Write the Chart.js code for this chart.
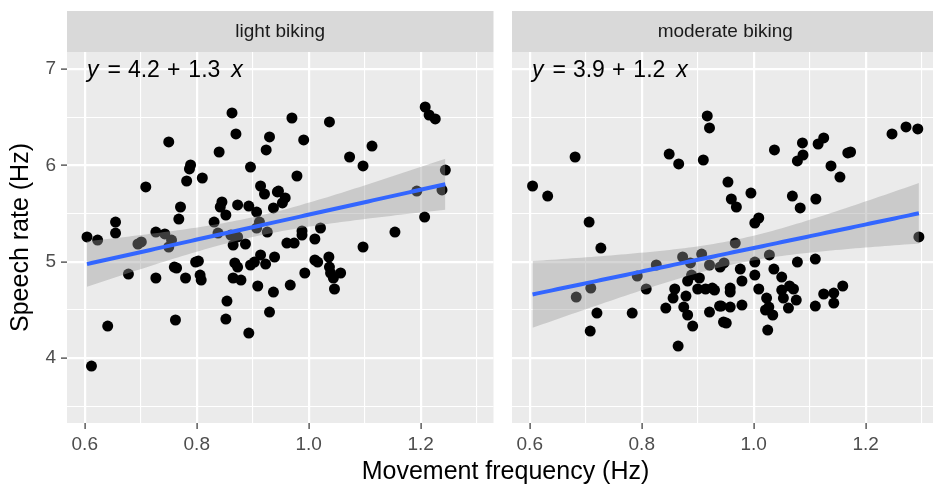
<!DOCTYPE html>
<html>
<head>
<meta charset="utf-8">
<script src="https://cdn.jsdelivr.net/npm/chart.js@4.4.1/dist/chart.umd.min.js"></script>
<style>
  html, body { margin: 0; padding: 0; background: #fff; }
  #wrap { position: relative; width: 933px; height: 487px; overflow: hidden; }
  canvas { position: absolute; top: 0; }
  #xtitle { position: absolute; left: 67px; width: 877px; top: 456px; text-align: center;
            font: 25px "Liberation Sans", Arial, sans-serif; color: #000; line-height: 28px; }
</style>
</head>
<body>
<div id="wrap">
  <canvas id="c0" width="499" height="487" style="left:0"></canvas>
  <canvas id="c1" width="445" height="487" style="left:499px"></canvas>
  <div id="xtitle">Movement frequency (Hz)</div>
</div>
<script>
// facet labels and fitted equation text
var panelLabels = ['light biking', 'moderate biking'];
var eqIntercepts = ['4.2', '3.9'];
var eqSlopes = ['1.3', '1.2'];

// axis ticks
var xTicks = [0.6, 0.8, 1.0, 1.2];
var xTickLabels = ['0.6', '0.8', '1.0', '1.2'];
var xMinor = [0.7, 0.9, 1.1, 1.3];
var yTicks = [4, 5, 6, 7];
var yTickLabels = ['4', '5', '6', '7'];
var yMinor = [3.5, 4.5, 5.5, 6.5];

// light biking
var lightX = [0.604,0.623,0.612,0.641,0.655,0.655,0.678,0.701,0.695,0.709,0.727,0.743,0.755,0.750,0.750,
  0.727,0.760,0.764,0.780,0.762,0.768,0.771,0.782,0.787,0.789,0.810,0.798,0.803,0.806,0.808,
  0.831,0.840,0.842,0.845,0.852,0.838,0.863,0.870,0.873,0.861,0.873,0.865,0.887,0.868,0.873,
  0.865,0.879,0.854,0.852,0.893,0.896,0.907,0.907,0.926,0.914,0.921,0.924,0.930,0.937,0.944,
  0.903,0.896,0.914,0.923,0.939,0.909,0.937,0.893,0.930,0.946,0.958,0.953,0.912,0.970,0.991,
  0.979,1.037,1.073,1.097,1.113,0.988,0.988,1.021,1.011,0.961,0.974,0.967,0.993,1.011,1.016,
  1.036,1.037,1.039,1.044,1.057,1.046,1.097,1.154,1.207,1.208,1.215,1.226,1.244,1.193,1.238];
var lightY = [5.256,5.224,3.916,4.331,5.411,5.297,4.871,5.204,5.183,5.775,5.307,5.287,5.224,5.152,6.242,
  4.830,4.944,4.934,4.830,4.394,5.442,5.567,5.837,5.962,6.003,5.868,4.996,5.006,4.861,4.809,
  5.411,6.138,5.567,5.619,5.484,5.297,6.543,6.325,5.588,5.276,5.256,5.172,5.183,4.986,4.944,
  4.830,4.809,4.591,4.404,5.577,5.982,5.515,5.349,5.307,5.785,5.702,6.159,6.294,5.557,5.723,
  4.996,4.965,5.069,4.975,5.048,4.747,4.684,4.259,4.477,5.733,5.661,5.609,5.411,6.491,6.263,
  5.889,6.450,6.086,5.993,6.200,5.318,5.276,5.349,5.235,5.193,5.193,4.757,4.882,5.017,4.996,
  5.048,4.944,4.882,4.830,4.882,4.716,5.152,5.307,5.463,6.605,6.522,6.481,5.951,5.733,5.744];

// moderate biking
var moderateX = [0.605,0.632,0.681,0.706,0.849,0.866,0.917,0.921,0.910,0.954,0.960,0.969,0.995,1.002,1.009,
  1.037,1.069,1.083,1.087,1.088,1.078,1.111,1.115,1.125,1.138,1.154,1.168,1.173,1.247,1.272,
  1.293,1.295,0.727,0.683,0.709,0.720,0.708,0.783,0.792,0.808,0.826,0.873,0.907,0.887,0.921,
  0.865,0.843,0.856,0.859,0.879,0.882,0.889,0.903,0.900,0.914,0.926,0.875,0.882,0.891,0.921,
  0.939,0.946,0.940,0.967,0.947,0.976,1.002,1.002,1.028,1.036,1.050,1.078,1.110,0.979,0.958,
  0.958,1.009,0.930,0.942,0.958,0.979,0.951,1.023,1.027,1.021,1.034,1.050,1.064,1.071,1.053,
  1.076,1.062,1.025,1.110,1.125,1.143,1.143,1.159];
var moderateY = [5.785,5.681,6.086,5.411,6.117,6.014,6.512,6.388,6.055,5.826,5.650,5.567,5.712,5.401,5.453,
  6.159,5.681,5.557,6.232,6.107,6.045,5.650,6.221,6.284,5.993,5.878,6.128,6.138,6.325,6.398,
  6.377,5.256,5.141,4.632,4.726,4.466,4.279,4.466,4.851,4.716,4.965,5.048,5.079,4.986,4.965,
  4.124,4.518,4.622,4.716,4.643,4.799,4.861,4.830,4.716,4.716,4.726,4.528,4.446,4.331,4.477,
  4.539,4.373,4.944,5.193,4.986,4.923,4.861,4.996,5.069,4.923,4.840,4.996,5.027,4.799,4.726,
  4.684,4.716,4.705,4.539,4.528,4.549,4.362,4.622,4.528,4.498,4.446,4.705,4.747,4.716,4.622,
  4.601,4.518,4.290,4.539,4.664,4.674,4.570,4.747];

var FONT = '"Liberation Sans", Arial, sans-serif';

function isIn(list, v) {
  return list.some(function (t) { return Math.abs(t - v) < 1e-6; });
}

// linear fit with 95% band, like geom_smooth(method = "lm")
function lmFit(xs, ys) {
  var n = xs.length, mx = 0, my = 0, sxx = 0, sxy = 0, sse = 0;
  for (var i = 0; i < n; i++) { mx += xs[i]; my += ys[i]; }
  mx /= n; my /= n;
  for (i = 0; i < n; i++) { sxx += (xs[i] - mx) * (xs[i] - mx); sxy += (xs[i] - mx) * (ys[i] - my); }
  var b = sxy / sxx, a = my - b * mx;
  for (i = 0; i < n; i++) { var r = ys[i] - a - b * xs[i]; sse += r * r; }
  var s = Math.sqrt(sse / (n - 2)), t = 1.983;
  var lo = Math.min.apply(null, xs), hi = Math.max.apply(null, xs);
  var line = [], upper = [], lower = [];
  for (i = 0; i < 80; i++) {
    var x = lo + (hi - lo) * i / 79;
    var yh = a + b * x;
    var se = s * Math.sqrt(1 / n + (x - mx) * (x - mx) / sxx);
    line.push({x: x, y: yh});
    upper.push({x: x, y: yh + t * se});
    lower.push({x: x, y: yh - t * se});
  }
  return {line: line, upper: upper, lower: lower};
}

var panelDeco = {
  id: 'panelDeco',
  beforeDraw: function (chart, args, opts) {
    var ctx = chart.ctx, a = chart.chartArea;
    ctx.save();
    ctx.fillStyle = '#EBEBEB';
    ctx.fillRect(a.left, a.top, a.right - a.left, a.bottom - a.top);
    ctx.fillStyle = '#D9D9D9';
    ctx.fillRect(a.left, 11, a.right - a.left, a.top - 11);
    ctx.fillStyle = '#1A1A1A';
    ctx.font = '19px ' + FONT;
    ctx.textAlign = 'center';
    ctx.textBaseline = 'middle';
    ctx.fillText(opts.label, (a.left + a.right) / 2, 32);
    ctx.restore();
  },
  afterDraw: function (chart, args, opts) {
    var ctx = chart.ctx, a = chart.chartArea;
    var parts = [['y', true], ['=', false], [opts.a, false], ['+', false], [opts.b, false], ['x', true]];
    var gaps = [9, 7, 7, 8, 11, 0];
    var x = a.left + 20, base = 77;
    ctx.save();
    ctx.fillStyle = '#000';
    ctx.textBaseline = 'alphabetic';
    ctx.textAlign = 'left';
    parts.forEach(function (p, i) {
      ctx.font = (p[1] ? 'italic ' : '') + '23px ' + FONT;
      ctx.fillText(p[0], x, base);
      x += ctx.measureText(p[0]).width + gaps[i];
    });
    ctx.restore();
  }
};

function makePanel(id, xs, ys, k, showY) {
  var fit = lmFit(xs, ys);
  var pts = xs.map(function (x, i) { return {x: x, y: ys[i]}; });
  new Chart(document.getElementById(id), {
    type: 'scatter',
    data: {
      datasets: [
        {data: fit.line, showLine: true, borderColor: '#3366FF', borderWidth: 4, pointRadius: 0, fill: false},
        {data: fit.upper, showLine: true, borderWidth: 0, borderColor: 'rgba(0,0,0,0)', pointRadius: 0,
         fill: '+1', backgroundColor: 'rgba(153,153,153,0.4)'},
        {data: fit.lower, showLine: true, borderWidth: 0, borderColor: 'rgba(0,0,0,0)', pointRadius: 0, fill: false},
        {data: pts, pointRadius: 5.5, pointBackgroundColor: '#000', pointBorderWidth: 0, borderWidth: 0}
      ]
    },
    options: {
      responsive: false,
      animation: false,
      events: [],
      layout: {padding: {top: 52, left: 0, right: 0, bottom: 0}},
      plugins: {
        legend: {display: false},
        tooltip: {enabled: false},
        panelDeco: {label: panelLabels[k], a: eqIntercepts[k], b: eqSlopes[k]}
      },
      scales: {
        x: {
          type: 'linear', min: 0.5683, max: 1.330,
          afterBuildTicks: function (s) {
            s.ticks = xTicks.concat(xMinor).sort().map(function (v) { return {value: v}; });
          },
          afterFit: function (s) { s.height = 64; },
          border: {display: false},
          grid: {
            color: '#FFFFFF',
            lineWidth: function (c) { return c.tick && isIn(xTicks, c.tick.value) ? 2.2 : 1.1; },
            tickColor: function (c) { return c.tick && isIn(xTicks, c.tick.value) ? '#333333' : 'rgba(0,0,0,0)'; },
            tickLength: 6, tickWidth: 1.2
          },
          ticks: {
            autoSkip: false, maxRotation: 0, padding: 4, color: '#4D4D4D',
            font: {size: 19, family: FONT},
            callback: function (v) {
              var i = xTicks.findIndex(function (t) { return Math.abs(t - v) < 1e-6; });
              return i < 0 ? '' : xTickLabels[i];
            }
          }
        },
        y: {
          type: 'linear', min: 3.325, max: 7.176,
          afterBuildTicks: function (s) {
            s.ticks = yTicks.concat(yMinor).sort().map(function (v) { return {value: v}; });
          },
          afterFit: function (s) { s.width = showY ? 67 : 13; },
          border: {display: false},
          title: {display: showY, text: 'Speech rate (Hz)', color: '#000',
                  font: {size: 25, family: FONT}, padding: {top: 6, bottom: 0}},
          grid: {
            color: '#FFFFFF',
            lineWidth: function (c) { return c.tick && isIn(yTicks, c.tick.value) ? 2.2 : 1.1; },
            tickColor: function (c) { return c.tick && isIn(yTicks, c.tick.value) ? '#333333' : 'rgba(0,0,0,0)'; },
            drawTicks: showY, tickLength: 6, tickWidth: 1.2
          },
          ticks: {
            display: showY, autoSkip: false, padding: 5, color: '#4D4D4D',
            font: {size: 19, family: FONT},
            callback: function (v) {
              var i = yTicks.findIndex(function (t) { return Math.abs(t - v) < 1e-6; });
              return i < 0 ? '' : yTickLabels[i];
            }
          }
        }
      }
    },
    plugins: [panelDeco]
  });
}

makePanel('c0', lightX, lightY, 0, true);
makePanel('c1', moderateX, moderateY, 1, false);
</script>
</body>
</html>
